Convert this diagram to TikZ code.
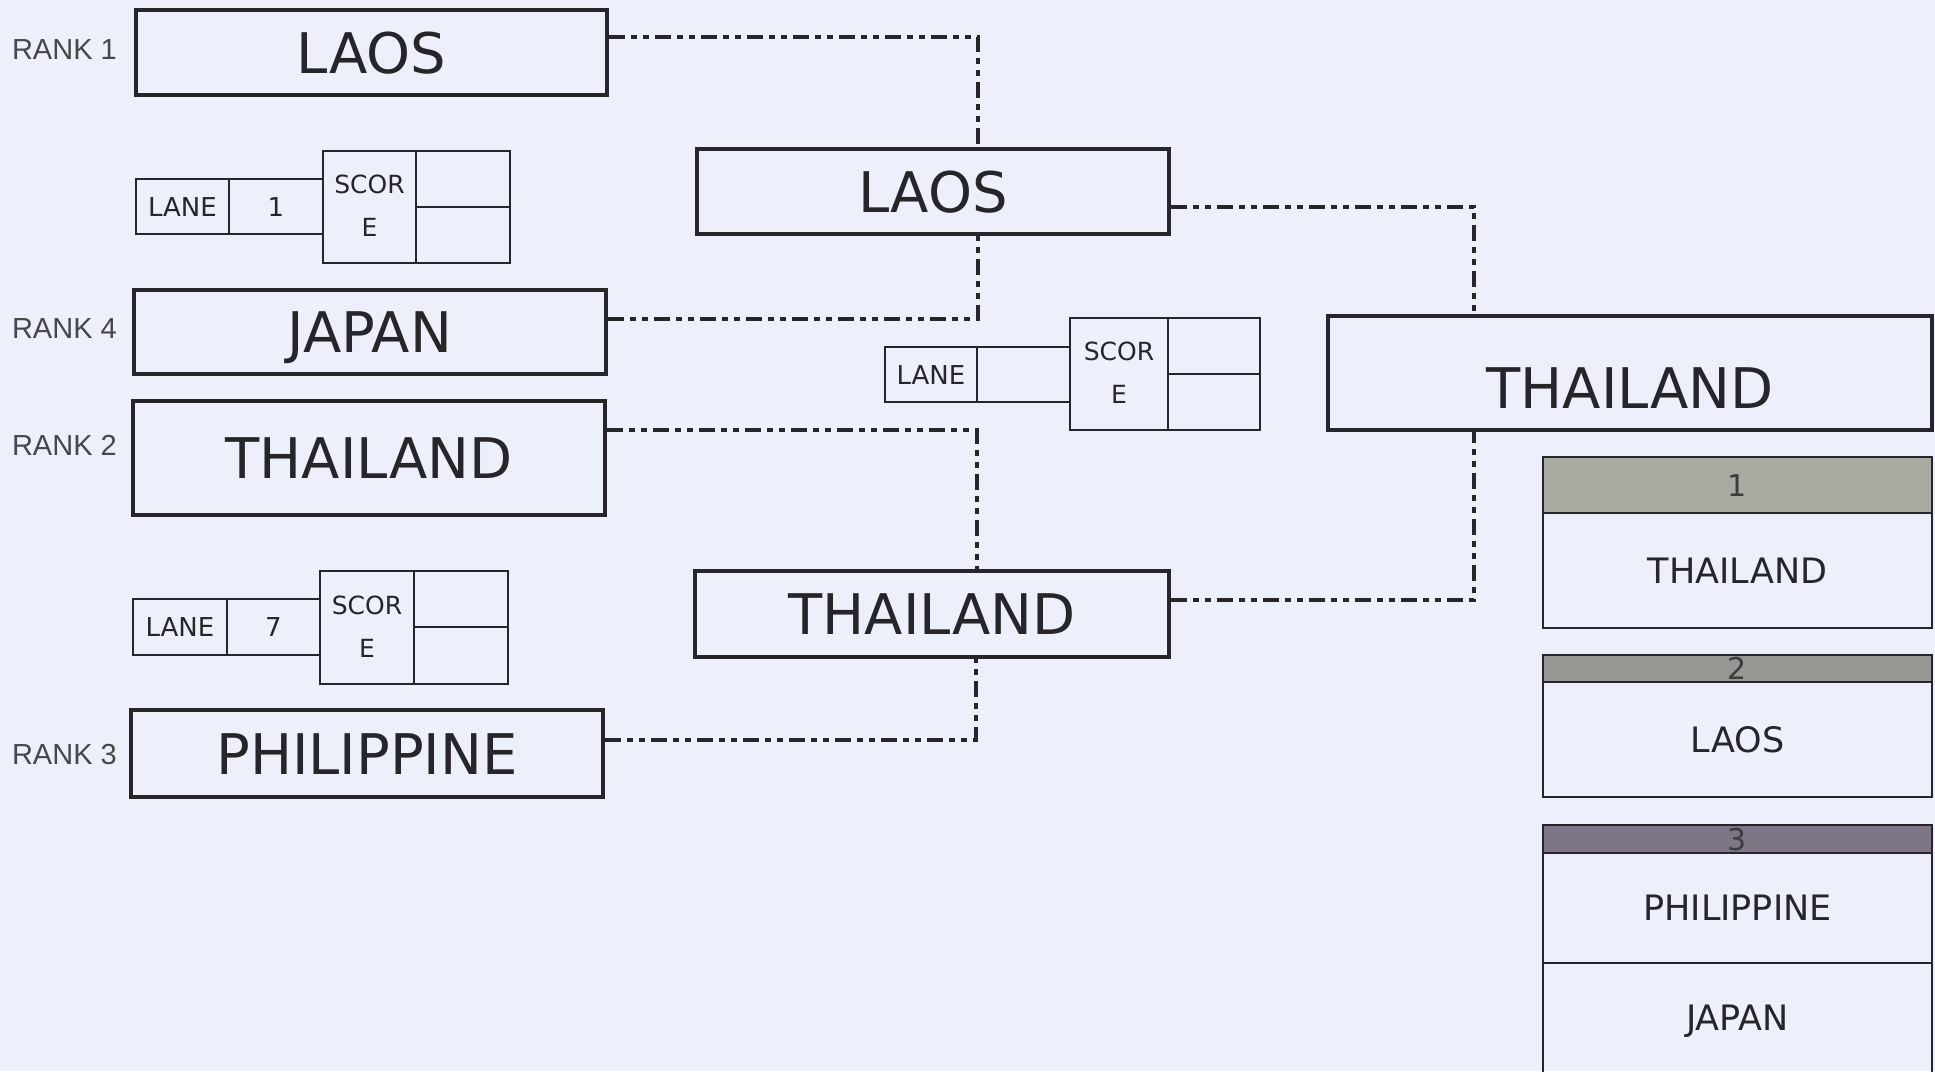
\documentclass[tikz,border=0pt]{standalone}
\usepackage{fontspec}
\setmainfont{DejaVu Sans}
\newfontfamily\rankfont{Liberation Sans}
\definecolor{paper}{RGB}{237,240,250}
\definecolor{ink}{RGB}{38,38,42}
\definecolor{hdrA}{RGB}{168,170,162}
\definecolor{hdrB}{RGB}{150,150,146}
\definecolor{hdrC}{RGB}{126,118,132}
\begin{document}
\begin{tikzpicture}[x=1pt,y=-1pt,
  bigbox/.style={draw=ink,line width=3.5pt,inner sep=0pt,text=ink,
    font=\fontsize{56}{60}\selectfont,text height=41pt,text depth=0pt},
  bigtxt/.style={inner sep=0pt,text=ink,font=\fontsize{56}{60}\selectfont,
    text height=41pt,text depth=0pt},
  cell/.style={draw=ink,line width=2.2pt,inner sep=0pt,text=ink,
    font=\fontsize{26}{28}\selectfont,text height=19pt,text depth=0pt},
  celltxt/.style={inner sep=0pt,text=ink,font=\fontsize{25}{28}\selectfont,
    text height=18pt,text depth=0pt},
  rank/.style={anchor=east,inner sep=0pt,text=ink!85,
    font=\rankfont\fontsize{29}{32}\selectfont,text height=21pt,text depth=0pt},
  hdr/.style={draw=ink,line width=2.6pt,inner sep=0pt,minimum width=389pt,text=ink!90,
    font=\fontsize{30}{32}\selectfont,text height=22pt,text depth=0pt},
  res/.style={draw=ink,line width=2.6pt,inner sep=0pt,minimum width=389pt,text=ink,
    font=\fontsize{35}{38}\selectfont,text height=25.5pt,text depth=0pt},
  link/.style={draw=ink,line width=4pt,
    dash pattern=on 16pt off 6pt on 6pt off 6pt on 6pt off 6pt}
]
\useasboundingbox (0,0) rectangle (1935,1071);
\clip (0,0) rectangle (1935,1071);
\fill[paper] (0,0) rectangle (1935,1071);

% rank labels
\node[rank] (k1) at (117,49) {RANK 1};
\node[rank] (k4) at (117,328) {RANK 4};
\node[rank] (k2) at (117,445) {RANK 2};
\node[rank] (k3) at (117,754) {RANK 3};

% first-round boxes
\node[bigbox,minimum width=471pt,minimum height=85pt] (r1) at (371.5,52.5) {LAOS};
\node[bigbox,minimum width=472pt,minimum height=84pt] (r4) at (370,332) {JAPAN};
\node[bigbox,minimum width=472pt,minimum height=114pt] (r2) at (369,458) {THAILAND};
\node[bigbox,minimum width=472pt,minimum height=87pt] (r3) at (367,753.5) {PHILIPPINE};

% second-round boxes
\node[bigbox,minimum width=472pt,minimum height=85pt] (mL) at (933,191.5) {LAOS};
\node[bigbox,minimum width=474pt,minimum height=86pt] (mT) at (932,614) {THAILAND};

% final box
\node[bigbox,minimum width=604pt,minimum height=114pt] (fT) at (1630,373) {};
\node[bigtxt] (fTt) at (1630,388) {THAILAND};

% lane / score 1
\node[cell,minimum width=93pt,minimum height=55pt] (a1) at (182.5,206.5) {LANE};
\node[cell,minimum width=94pt,minimum height=55pt] (a1n) at (276,206.5) {1};
\node[cell,minimum width=93pt,minimum height=112pt] (s1) at (369.5,207) {};
\node[cell,minimum width=94pt,minimum height=56pt] (s1a) at (463,179) {};
\node[cell,minimum width=94pt,minimum height=56pt] (s1b) at (463,235) {};
\node[celltxt] (s1t) at (369.5,184) {SCOR};
\node[celltxt] (s1e) at (369.5,227) {E};

% lane / score 7
\node[cell,minimum width=94pt,minimum height=56pt] (a7) at (180,627) {LANE};
\node[cell,minimum width=93pt,minimum height=56pt] (a7n) at (273.5,627) {7};
\node[cell,minimum width=94pt,minimum height=113pt] (s7) at (367,627.5) {};
\node[cell,minimum width=94pt,minimum height=56pt] (s7a) at (461,599) {};
\node[cell,minimum width=94pt,minimum height=57pt] (s7b) at (461,655.5) {};
\node[celltxt] (s7t) at (367,605) {SCOR};
\node[celltxt] (s7e) at (367,648) {E};

% middle lane / score
\node[cell,minimum width=92pt,minimum height=55pt] (am) at (931,374.5) {LANE};
\node[cell,minimum width=93pt,minimum height=55pt] (amn) at (1023.5,374.5) {};
\node[cell,minimum width=98pt,minimum height=112pt] (sm) at (1119,374) {};
\node[cell,minimum width=92pt,minimum height=56pt] (sma) at (1214,346) {};
\node[cell,minimum width=92pt,minimum height=56pt] (smb) at (1214,402) {};
\node[celltxt] (smt) at (1119,351) {SCOR};
\node[celltxt] (sme) at (1119,394) {E};

% connectors
\draw[link] ([yshift=15.5pt]r1.east) -| ([xshift=45pt]mL.north);
\draw[link] ([yshift=13pt]r4.east) -| ([xshift=45pt]mL.south);
\draw[link] ([yshift=28pt]r2.east) -| ([xshift=45pt]mT.north);
\draw[link] ([yshift=13.5pt]r3.east) -| ([xshift=44pt]mT.south);
\draw[link] ([yshift=-15pt]mL.east) -| ([xshift=-156pt]fT.north);
\draw[link] ([yshift=14pt]mT.east) -| ([xshift=-156pt]fT.south);

% results
\node[hdr,fill=hdrA,minimum height=56pt] (h1) at (1737.5,485) {1};
\node[res,minimum height=115pt] (b1) at (1737.5,570.5) {THAILAND};
\node[hdr,fill=hdrB,minimum height=27pt] (h2) at (1737.5,668.5) {2};
\node[res,minimum height=115pt] (b2) at (1737.5,739.5) {LAOS};
\node[hdr,fill=hdrC,minimum height=28pt] (h3) at (1737.5,839) {3};
\node[res,minimum height=110pt] (b3) at (1737.5,908) {PHILIPPINE};
\node[res,minimum height=110pt] (b4) at (1737.5,1018) {JAPAN};
\end{tikzpicture}
\end{document}
